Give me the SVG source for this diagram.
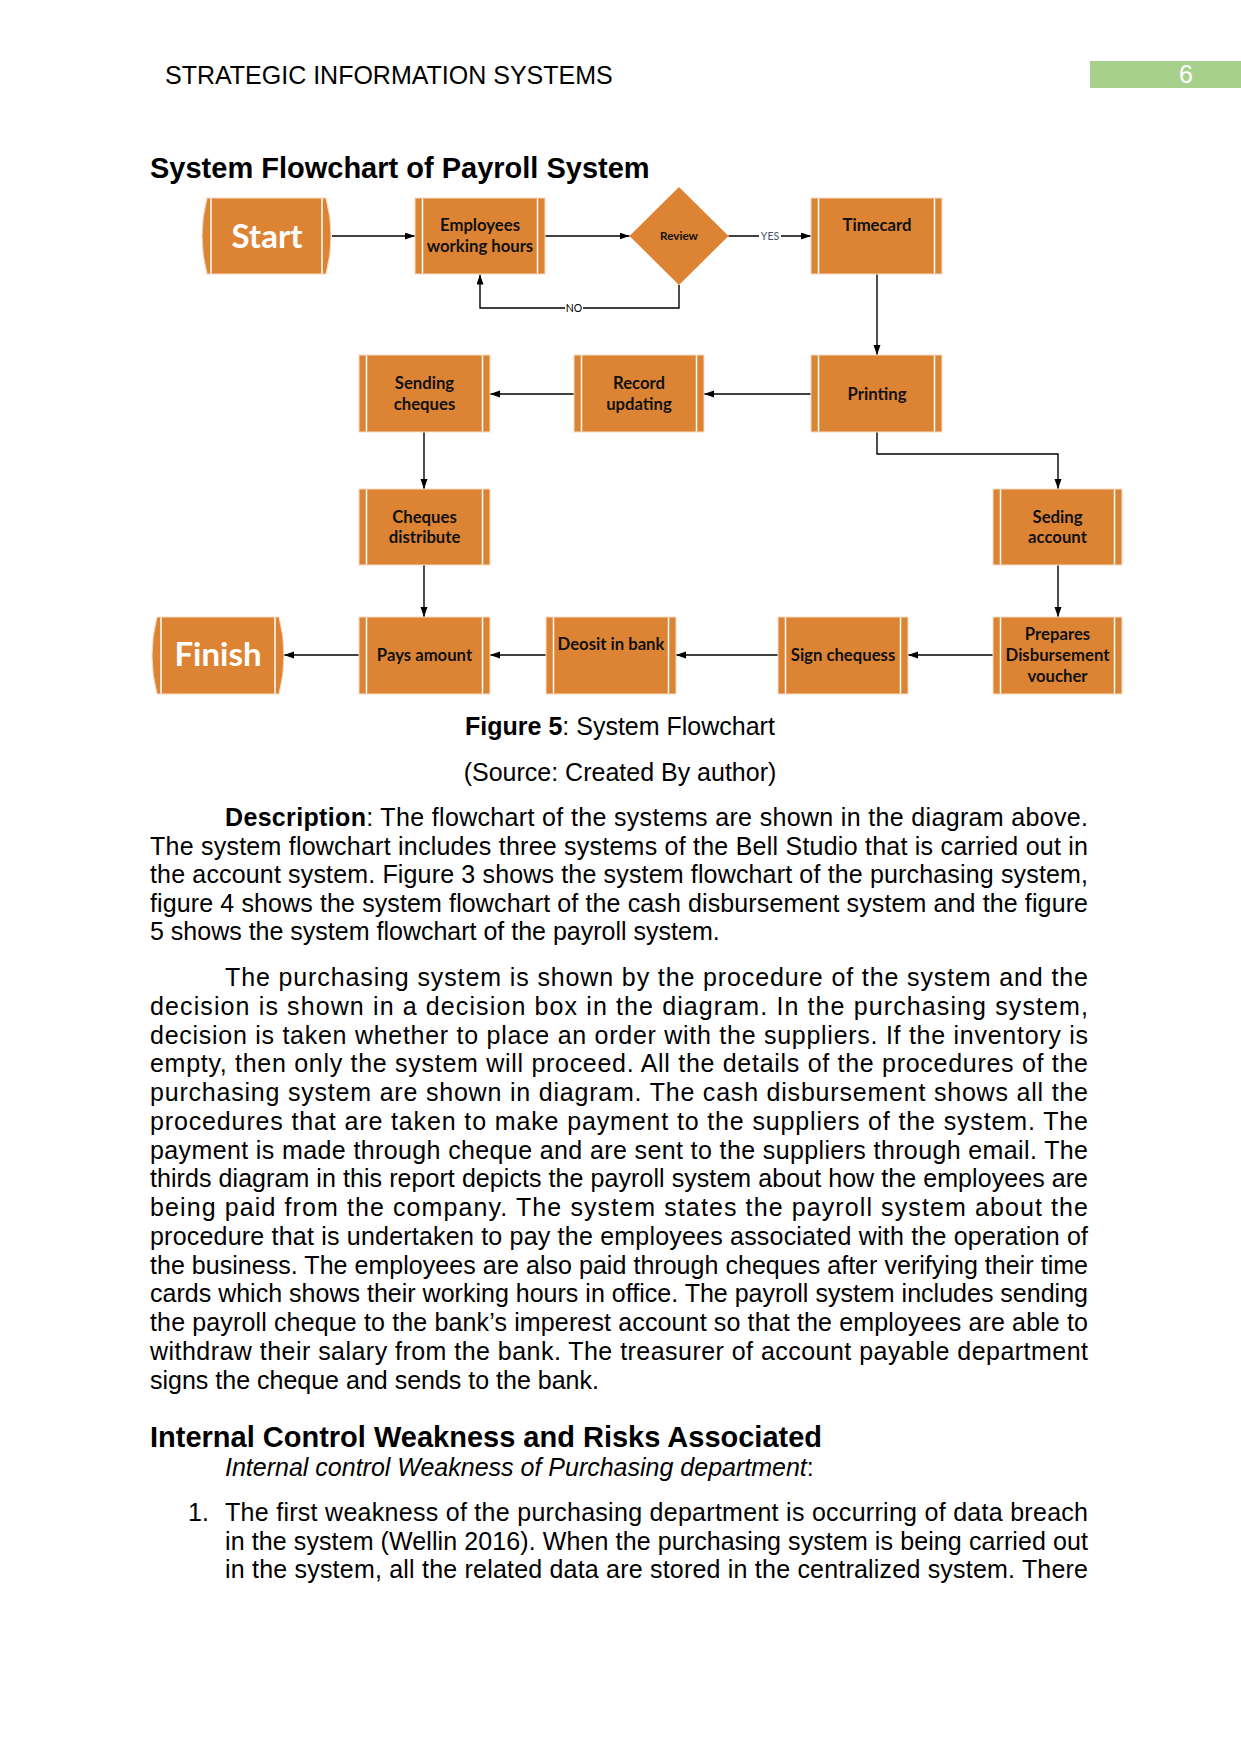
<svg xmlns="http://www.w3.org/2000/svg" width="1241" height="1754" viewBox="0 0 1241 1754">
<defs>
<style>
.pg{font-family:"Liberation Sans",Arial,sans-serif;font-size:25px;fill:#000}
.b{font-weight:bold}
.h{font-family:"Liberation Sans",Arial,sans-serif;font-size:29px;font-weight:bold;fill:#000}
.box{fill:#DD8434;stroke:#F6DCC4;stroke-width:1}
.wl{stroke:#FFFFFF;stroke-width:1.5;fill:none}
.bt{font-family:Lato,"Open Sans",sans-serif;font-weight:bold;font-size:16.7px;fill:#111;text-anchor:middle}
.tt{font-family:Lato,"Open Sans",sans-serif;font-weight:bold;font-size:33px;fill:#FFFFFF;text-anchor:middle}
.cn{stroke:#000;stroke-width:1.4;fill:none;marker-end:url(#ah)}
.lb{font-family:Lato,"Open Sans",sans-serif;font-size:10.5px;text-anchor:middle}
</style>
<marker id="ah" markerUnits="userSpaceOnUse" markerWidth="10" markerHeight="8" refX="10" refY="3.5" orient="auto">
<path d="M0,0 L10,3.5 L0,7 z" fill="#000"/>
</marker>
</defs>
<rect x="0" y="0" width="1241" height="1754" fill="#FFFFFF"/>

<!-- header -->
<text class="pg" x="165" y="84">STRATEGIC INFORMATION SYSTEMS</text>
<rect x="1090" y="61" width="151" height="27" fill="#A8D08D"/>
<text class="pg" x="1186" y="83" text-anchor="middle" style="fill:#FFFFFF">6</text>

<text class="h" x="150" y="177.5">System Flowchart of Payroll System</text>

<!-- connectors -->
<g id="connectors">
<path class="cn" d="M332,236 H415"/>
<path class="cn" d="M545,236 H629.5"/>
<path class="cn" d="M728.5,236 H811"/>
<path class="cn" d="M679,285 V308 H480 V274.5"/>
<path class="cn" d="M877,274 V355"/>
<path class="cn" d="M811,394 H704"/>
<path class="cn" d="M574,394 H490"/>
<path class="cn" d="M877,432 V454 H1058 V489"/>
<path class="cn" d="M424,432 V489"/>
<path class="cn" d="M424,565 V617"/>
<path class="cn" d="M1058,565 V617"/>
<path class="cn" d="M993,655 H908"/>
<path class="cn" d="M778,655 H676"/>
<path class="cn" d="M546,655 H490"/>
<path class="cn" d="M359,655 H284"/>
<rect x="759" y="230" width="22" height="12" fill="#FFFFFF"/>
<text class="lb" x="770" y="240" fill="#44546A">YES</text>
<rect x="565" y="302" width="18" height="12" fill="#FFFFFF"/>
<text class="lb" x="574" y="312" fill="#000">NO</text>
</g>

<!-- nodes -->
<g id="start">
<path class="box" d="M207,198 H326 Q336,236 326,274 H207 Q197,236 207,198 Z"/>
<line class="wl" x1="211" y1="198.5" x2="211" y2="273.5"/>
<line class="wl" x1="322" y1="198.5" x2="322" y2="273.5"/>
<text class="tt" x="267" y="247.5">Start</text>
</g>

<g id="employees">
<rect class="box" x="415" y="198" width="130" height="76"/>
<line class="wl" x1="422.5" y1="198.5" x2="422.5" y2="273.5"/>
<line class="wl" x1="537.5" y1="198.5" x2="537.5" y2="273.5"/>
<text class="bt" x="480" y="231">Employees</text>
<text class="bt" x="480" y="251.5">working hours</text>
</g>

<g id="review">
<polygon class="box" points="679,187 728.5,236 679,285 629.5,236" style="stroke:none"/>
<text class="bt" x="679" y="240" style="font-size:11.7px">Review</text>
</g>

<g id="timecard">
<rect class="box" x="811" y="198" width="131" height="76"/>
<line class="wl" x1="818.5" y1="198.5" x2="818.5" y2="273.5"/>
<line class="wl" x1="934.5" y1="198.5" x2="934.5" y2="273.5"/>
<text class="bt" x="877" y="231">Timecard</text>
</g>

<g id="printing">
<rect class="box" x="811" y="355" width="131" height="77"/>
<line class="wl" x1="818.5" y1="355.5" x2="818.5" y2="431.5"/>
<line class="wl" x1="934.5" y1="355.5" x2="934.5" y2="431.5"/>
<text class="bt" x="877" y="399.5">Printing</text>
</g>

<g id="record-updating">
<rect class="box" x="574" y="355" width="130" height="77"/>
<line class="wl" x1="581.5" y1="355.5" x2="581.5" y2="431.5"/>
<line class="wl" x1="696.5" y1="355.5" x2="696.5" y2="431.5"/>
<text class="bt" x="639" y="389">Record</text>
<text class="bt" x="639" y="409.5">updating</text>
</g>

<g id="sending-cheques">
<rect class="box" x="359" y="355" width="131" height="77"/>
<line class="wl" x1="366.5" y1="355.5" x2="366.5" y2="431.5"/>
<line class="wl" x1="482.5" y1="355.5" x2="482.5" y2="431.5"/>
<text class="bt" x="424.5" y="389">Sending</text>
<text class="bt" x="424.5" y="409.5">cheques</text>
</g>

<g id="cheques-distribute">
<rect class="box" x="359" y="489" width="131" height="76"/>
<line class="wl" x1="366.5" y1="489.5" x2="366.5" y2="564.5"/>
<line class="wl" x1="482.5" y1="489.5" x2="482.5" y2="564.5"/>
<text class="bt" x="424.5" y="522.5">Cheques</text>
<text class="bt" x="424.5" y="543">distribute</text>
</g>

<g id="seding-account">
<rect class="box" x="993" y="489" width="129" height="76"/>
<line class="wl" x1="1000.5" y1="489.5" x2="1000.5" y2="564.5"/>
<line class="wl" x1="1114.5" y1="489.5" x2="1114.5" y2="564.5"/>
<text class="bt" x="1057.5" y="522.5">Seding</text>
<text class="bt" x="1057.5" y="543">account</text>
</g>

<g id="prepares-voucher">
<rect class="box" x="993" y="617" width="129" height="77"/>
<line class="wl" x1="1000.5" y1="617.5" x2="1000.5" y2="693.5"/>
<line class="wl" x1="1114.5" y1="617.5" x2="1114.5" y2="693.5"/>
<text class="bt" x="1057.5" y="639.5">Prepares</text>
<text class="bt" x="1057.5" y="660.5">Disbursement</text>
<text class="bt" x="1057.5" y="681.5">voucher</text>
</g>

<g id="sign-chequess">
<rect class="box" x="778" y="617" width="130" height="77"/>
<line class="wl" x1="785.5" y1="617.5" x2="785.5" y2="693.5"/>
<line class="wl" x1="900.5" y1="617.5" x2="900.5" y2="693.5"/>
<text class="bt" x="843" y="660.5">Sign chequess</text>
</g>

<g id="deosit-in-bank">
<rect class="box" x="546" y="617" width="130" height="77"/>
<line class="wl" x1="553.5" y1="617.5" x2="553.5" y2="693.5"/>
<line class="wl" x1="668.5" y1="617.5" x2="668.5" y2="693.5"/>
<text class="bt" x="611" y="649.5">Deosit in bank</text>
</g>

<g id="pays-amount">
<rect class="box" x="359" y="617" width="131" height="77"/>
<line class="wl" x1="366.5" y1="617.5" x2="366.5" y2="693.5"/>
<line class="wl" x1="482.5" y1="617.5" x2="482.5" y2="693.5"/>
<text class="bt" x="424.5" y="660.5">Pays amount</text>
</g>

<g id="finish">
<path class="box" d="M157,617 H279 Q289,655.5 279,694 H157 Q147,655.5 157,617 Z"/>
<line class="wl" x1="161" y1="617.5" x2="161" y2="693.5"/>
<line class="wl" x1="275" y1="617.5" x2="275" y2="693.5"/>
<text class="tt" x="218" y="666">Finish</text>
</g>

<!-- caption -->
<text class="pg" x="620" y="735" text-anchor="middle"><tspan class="b">Figure 5</tspan>: System Flowchart</text>
<text class="pg" x="620" y="780.5" text-anchor="middle">(Source: Created By author)</text>

<!-- paragraph 1 -->
<text class="pg" x="225" y="826" textLength="863" lengthAdjust="spacing"><tspan class="b">Description</tspan>: The flowchart of the systems are shown in the diagram above.</text>
<text class="pg" x="150" y="854.6" textLength="938" lengthAdjust="spacing">The system flowchart includes three systems of the Bell Studio that is carried out in</text>
<text class="pg" x="150" y="883.2" textLength="938" lengthAdjust="spacing">the account system. Figure 3 shows the system flowchart of the purchasing system,</text>
<text class="pg" x="150" y="911.8" textLength="938" lengthAdjust="spacing">figure 4 shows the system flowchart of the cash disbursement system and the figure</text>
<text class="pg" x="150" y="940.4">5 shows the system flowchart of the payroll system.</text>

<!-- paragraph 2 -->
<text class="pg" x="225" y="986" textLength="863" lengthAdjust="spacing">The purchasing system is shown by the procedure of the system and the</text>
<text class="pg" x="150" y="1014.75" textLength="938" lengthAdjust="spacing">decision is shown in a decision box in the diagram. In the purchasing system,</text>
<text class="pg" x="150" y="1043.5" textLength="938" lengthAdjust="spacing">decision is taken whether to place an order with the suppliers. If the inventory is</text>
<text class="pg" x="150" y="1072.25" textLength="938" lengthAdjust="spacing">empty, then only the system will proceed. All the details of the procedures of the</text>
<text class="pg" x="150" y="1101" textLength="938" lengthAdjust="spacing">purchasing system are shown in diagram. The cash disbursement shows all the</text>
<text class="pg" x="150" y="1129.75" textLength="938" lengthAdjust="spacing">procedures that are taken to make payment to the suppliers of the system. The</text>
<text class="pg" x="150" y="1158.5" textLength="938" lengthAdjust="spacing">payment is made through cheque and are sent to the suppliers through email. The</text>
<text class="pg" x="150" y="1187.25" textLength="938" lengthAdjust="spacing">thirds diagram in this report depicts the payroll system about how the employees are</text>
<text class="pg" x="150" y="1216" textLength="938" lengthAdjust="spacing">being paid from the company. The system states the payroll system about the</text>
<text class="pg" x="150" y="1244.75" textLength="938" lengthAdjust="spacing">procedure that is undertaken to pay the employees associated with the operation of</text>
<text class="pg" x="150" y="1273.5" textLength="938" lengthAdjust="spacing">the business. The employees are also paid through cheques after verifying their time</text>
<text class="pg" x="150" y="1302.25" textLength="938" lengthAdjust="spacing">cards which shows their working hours in office. The payroll system includes sending</text>
<text class="pg" x="150" y="1331" textLength="938" lengthAdjust="spacing">the payroll cheque to the bank’s imperest account so that the employees are able to</text>
<text class="pg" x="150" y="1359.75" textLength="938" lengthAdjust="spacing">withdraw their salary from the bank. The treasurer of account payable department</text>
<text class="pg" x="150" y="1388.5">signs the cheque and sends to the bank.</text>

<!-- section heading -->
<text class="h" x="150" y="1447">Internal Control Weakness and Risks Associated</text>
<text class="pg" x="225" y="1475.5"><tspan font-style="italic">Internal control Weakness of Purchasing department</tspan>:</text>

<text class="pg" x="188" y="1521">1.</text>
<text class="pg" x="225" y="1521" textLength="863" lengthAdjust="spacing">The first weakness of the purchasing department is occurring of data breach</text>
<text class="pg" x="225" y="1549.7" textLength="863" lengthAdjust="spacing">in the system (Wellin 2016). When the purchasing system is being carried out</text>
<text class="pg" x="225" y="1578.4" textLength="863" lengthAdjust="spacing">in the system, all the related data are stored in the centralized system. There</text>
</svg>
